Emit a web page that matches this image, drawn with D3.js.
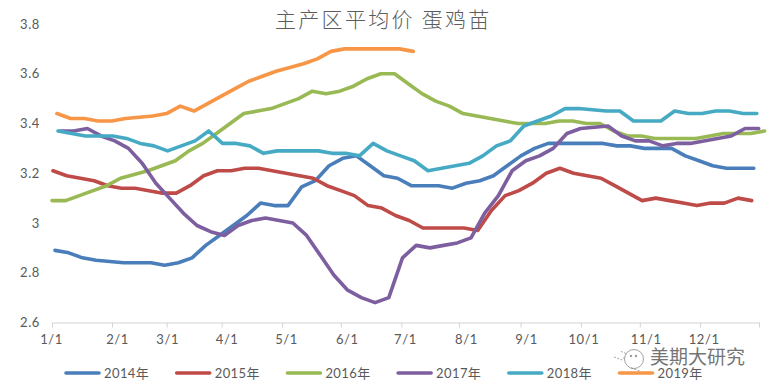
<!DOCTYPE html>
<html>
<head>
<meta charset="utf-8">
<script src="https://cdn.jsdelivr.net/npm/d3@7"></script>
<style>
  html, body { margin: 0; padding: 0; background: white; }
  svg { display: block; }
  text { font-family: Lato, "Noto Sans CJK SC", sans-serif; fill: #595959; }
</style>
</head>
<body>
<section></section>
<script>
var w = 769;
var h = 389;

//chart data (one value per week)
var years = ["2014年", "2015年", "2016年", "2017年", "2018年", "2019年"];
var colors = ["#4a7ebb", "#be4b48", "#98b954", "#7d5fa0", "#46aac4", "#f79646"];

var values2014 = [2.89,2.88,2.86,2.85,2.845,2.84,2.84,2.84,2.83,2.84,2.86,2.91,2.95,2.99,3.03,3.08,3.07,3.07,3.145,3.17,3.23,3.26,3.27,3.23,3.19,3.18,3.15,3.15,3.15,3.14,3.16,3.17,3.19,3.23,3.27,3.30,3.32,3.32,3.32,3.32,3.32,3.31,3.31,3.30,3.30,3.30,3.27,3.25,3.23,3.22,3.22,3.22];
var values2015 = [3.21,3.19,3.18,3.17,3.15,3.14,3.14,3.13,3.12,3.12,3.15,3.19,3.21,3.21,3.22,3.22,3.21,3.20,3.19,3.18,3.15,3.13,3.11,3.07,3.06,3.03,3.01,2.98,2.98,2.98,2.98,2.97,3.05,3.11,3.13,3.16,3.20,3.22,3.20,3.19,3.18,3.15,3.12,3.09,3.10,3.09,3.08,3.07,3.08,3.08,3.10,3.09];
var values2016 = [3.09,3.09,3.11,3.13,3.15,3.18,3.195,3.21,3.23,3.25,3.29,3.32,3.36,3.40,3.44,3.45,3.46,3.48,3.50,3.53,3.52,3.53,3.55,3.58,3.60,3.60,3.56,3.52,3.49,3.47,3.44,3.43,3.42,3.41,3.40,3.40,3.40,3.41,3.41,3.40,3.40,3.37,3.35,3.35,3.34,3.34,3.34,3.34,3.35,3.36,3.36,3.36,3.37];
var values2017 = [3.37,3.37,3.38,3.35,3.33,3.30,3.24,3.16,3.10,3.04,2.99,2.965,2.95,2.99,3.01,3.02,3.01,3.00,2.95,2.87,2.79,2.73,2.70,2.68,2.70,2.86,2.91,2.90,2.91,2.92,2.94,3.04,3.11,3.21,3.25,3.27,3.30,3.36,3.38,3.385,3.39,3.35,3.33,3.33,3.31,3.32,3.32,3.33,3.34,3.35,3.38,3.38];
var values2018 = [3.37,3.36,3.35,3.35,3.35,3.34,3.32,3.31,3.29,3.31,3.33,3.37,3.32,3.32,3.31,3.28,3.29,3.29,3.29,3.29,3.28,3.28,3.27,3.32,3.29,3.27,3.25,3.21,3.22,3.23,3.24,3.27,3.31,3.33,3.39,3.41,3.43,3.46,3.46,3.455,3.45,3.45,3.41,3.41,3.41,3.45,3.44,3.44,3.45,3.45,3.44,3.44];
var values2019 = [3.44,3.42,3.42,3.41,3.41,3.42,3.425,3.43,3.44,3.47,3.45,3.48,3.51,3.54,3.57,3.59,3.61,3.625,3.64,3.66,3.69,3.70,3.70,3.70,3.70,3.70,3.69];
var allValues = [values2014, values2015, values2016, values2017, values2018, values2019];

//each year's first reading falls on a different weekday, so the lines start a bit apart (in weeks)
var firstWeek = [0.22, 0.07, 0, 0.58, 0.44, 0.36];

var monthLabels = ["1/1","2/1","3/1","4/1","5/1","6/1","7/1","8/1","9/1","10/1","11/1","12/1"];
var monthWeeks = [0, 4.38, 8.37, 12.38, 16.79, 21.08, 25.5, 29.7, 34.2, 38.6, 42.9, 47.3, 51.6];
var yTicks = [2.6, 2.8, 3, 3.2, 3.4, 3.6, 3.8];

//chart area
var left = 52, right = 759, top_ = 24, bottom = 322.5;
//the labels in the original sit slightly right of their tick marks
var labelShift = [-1, 5, 0.5, 5, 4, 6, 3.5, 7, 5.5, 2.5, 6, 3.5];

var svg = d3.select("section")
            .append("svg")
            .attr("width", w)
            .attr("height", h)
            .style("background", "white");

var xScale = d3.scaleLinear().domain([0, 51.6]).range([left, right]);
var yScale = d3.scaleLinear().domain([2.6, 3.8]).range([bottom, top_]);

//title
svg.append("text")
    .attr("x", 275)
    .attr("y", 27)
    .style("font-family", '"Noto Sans CJK SC"')
    .style("font-weight", 300)
    .style("font-size", "21px")
    .style("letter-spacing", "2.3px")
    .style("fill", "#5c5c5c")
    .text("主产区平均价 蛋鸡苗");

//x axis
var xAxis = d3.axisBottom(xScale)
    .tickValues(monthWeeks)
    .tickSize(5)
    .tickSizeOuter(0)
    .tickFormat(function(d, i){ return monthLabels[i] || ""; });

var xGroup = svg.append("g")
    .attr("transform", "translate(0," + bottom + ")")
    .call(xAxis);
xGroup.select(".domain").attr("stroke", "#d4d4d4");
xGroup.selectAll("line").attr("stroke", "#d4d4d4");
xGroup.selectAll("text")
    .attr("x", function(d, i){ return labelShift[i] || 0; })
    .attr("y", 12)
    .style("font-size", "13px")
    .style("letter-spacing", "0.6px");

//y axis has labels only, no line
var yAxis = d3.axisLeft(yScale)
    .tickValues(yTicks)
    .tickSize(0)
    .tickPadding(0)
    .tickFormat(function(d){ return d3.format("")(d); });

var yGroup = svg.append("g")
    .attr("transform", "translate(40,0)")
    .call(yAxis);
yGroup.select(".domain").remove();
yGroup.selectAll("text")
    .style("font-size", "13px")
    .style("letter-spacing", "0.6px");

//lines, oldest year first so the later ones lie on top
var line = d3.line()
    .x(function(d){ return xScale(d.week); })
    .y(function(d){ return yScale(d.value); });

svg.selectAll("path.series")
    .data(allValues)
    .enter()
    .append("path")
    .attr("class", "series")
    .attr("fill", "none")
    .attr("stroke", function(d, i){ return colors[i]; })
    .attr("stroke-width", 3.6)
    .attr("stroke-linecap", "round")
    .attr("stroke-linejoin", "round")
    .attr("d", function(d, i){
        return line(d.map(function(v, j){
            return {week: firstWeek[i] + j, value: v};
        }));
    });

//legend
var legendStep = 110.7;
var legend = svg.selectAll("g.legend")
    .data(years)
    .enter()
    .append("g")
    .attr("class", "legend")
    .attr("transform", function(d, i){ return "translate(" + (66 + i * legendStep) + ",373)"; });

legend.append("line")
    .attr("x1", 0)
    .attr("x2", 33)
    .attr("stroke", function(d, i){ return colors[i]; })
    .attr("stroke-width", 3.6)
    .attr("stroke-linecap", "round");

legend.append("text")
    .attr("x", 38)
    .attr("y", 5)
    .style("font-size", "13px")
    .style("letter-spacing", "0.4px")
    .text(function(d){ return d; });

//watermark
var mark = svg.append("g")
    .attr("transform", "translate(613,347)")
    .attr("fill", "white")
    .attr("stroke", "#8a8a8a")
    .attr("stroke-width", 0.8);
mark.append("path").attr("d", "M1 10 L9 13 L14 7 L7 4").attr("stroke-dasharray", "2 1.5");
mark.append("circle").attr("cx", 21).attr("cy", 12).attr("r", 9.5);
mark.append("path").attr("d", "M18 21 L27 24").attr("stroke-dasharray", "2 1.5");
mark.append("circle").attr("cx", 18).attr("cy", 9).attr("r", 0.8).attr("fill", "#777");
mark.append("circle").attr("cx", 23).attr("cy", 9).attr("r", 0.8).attr("fill", "#777");

svg.append("text")
    .attr("x", 650)
    .attr("y", 364)
    .style("font-family", '"Noto Sans CJK SC"')
    .style("font-size", "19px")
    .style("fill", "#757575")
    .style("stroke", "white")
    .style("stroke-width", "2px")
    .style("paint-order", "stroke")
    .text("美期大研究");
</script>
</body>
</html>
